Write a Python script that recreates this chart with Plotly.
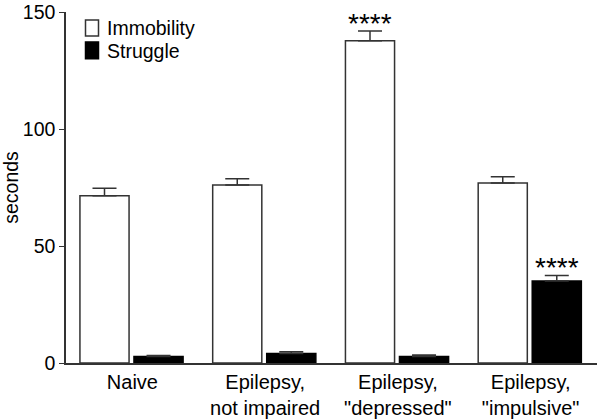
import plotly.graph_objects as go

categories = ["Naive", "Epilepsy,<br>not impaired", "Epilepsy,<br>\"depressed\"", "Epilepsy,<br>\"impulsive\""]
immobility = [71.5, 76.1, 137.7, 76.9]
immobility_err = [3.2, 2.6, 4.2, 2.7]
struggle = [2.8, 4.1, 2.8, 35.0]
struggle_err = [0.4, 0.7, 0.6, 2.4]
immobility_sig = ["", "", "****", ""]
struggle_sig = ["", "", "", "****"]
series_names = ["Immobility", "Struggle"]
y_ticks = [0, 50, 100, 150]

FONT = "Liberation Sans, Arial, sans-serif"
EDGE = "#333333"

FIG_W, FIG_H = 601, 419
ML, MR, MT, MB = 66, 4, 11.5, 55.5
PW = FIG_W - ML - MR
PH = FIG_H - MT - MB


def px_x(p):
    return (p - ML) / PW


def px_y(p):
    return (FIG_H - MB - p) / PH


W = 0.37
OFF_I = -0.395
OFF_S = 0.012

fig = go.Figure()
fig.add_trace(go.Bar(
    name=series_names[0], x=categories, y=immobility,
    width=W, offset=OFF_I, showlegend=False,
    marker=dict(color="white", line=dict(color=EDGE, width=1.5)),
    error_y=dict(type="data", array=immobility_err, arrayminus=[0] * 4, symmetric=False,
                 color=EDGE, thickness=1.5, width=12),
))
fig.add_trace(go.Bar(
    name=series_names[1], x=categories, y=struggle,
    width=W, offset=OFF_S, showlegend=False,
    marker=dict(color="black", line=dict(color="black", width=1.5)),
    error_y=dict(type="data", array=struggle_err, arrayminus=[0] * 4, symmetric=False,
                 color=EDGE, thickness=1.5, width=12),
))

annotations = []
star_font = dict(family=FONT, size=28, color="black")
for i in range(len(categories)):
    if immobility_sig[i]:
        annotations.append(dict(x=i + OFF_I + W / 2, y=immobility[i] + immobility_err[i],
                                xref="x", yref="y", text=immobility_sig[i], showarrow=False,
                                yanchor="bottom", yshift=-10, font=star_font))
    if struggle_sig[i]:
        annotations.append(dict(x=i + OFF_S + W / 2, y=struggle[i] + struggle_err[i],
                                xref="x", yref="y", text=struggle_sig[i], showarrow=False,
                                yanchor="bottom", yshift=-10, font=star_font))

# manual legend
shapes = [
    dict(type="rect", xref="paper", yref="paper",
         x0=px_x(85.5), x1=px_x(98.5), y0=px_y(35.5), y1=px_y(19.5),
         fillcolor="white", line=dict(color=EDGE, width=1.5)),
    dict(type="rect", xref="paper", yref="paper",
         x0=px_x(85.5), x1=px_x(98.5), y0=px_y(58.5), y1=px_y(41.5),
         fillcolor="black", line=dict(color="black", width=1.5)),
]
leg_font = dict(family=FONT, size=19.5, color="black")
annotations.append(dict(x=px_x(105), y=px_y(27.5), xref="paper", yref="paper",
                        text=series_names[0], showarrow=False, xanchor="left", yanchor="middle",
                        font=leg_font))
annotations.append(dict(x=px_x(105), y=px_y(50.5), xref="paper", yref="paper",
                        text=series_names[1], showarrow=False, xanchor="left", yanchor="middle",
                        font=leg_font))

fig.update_layout(
    width=FIG_W, height=FIG_H,
    margin=dict(l=ML, r=MR, t=MT, b=MB, pad=0),
    paper_bgcolor="white", plot_bgcolor="white",
    font=dict(family=FONT, size=19.5, color="black"),
    showlegend=False,
    annotations=annotations,
    shapes=shapes,
    xaxis=dict(type="category", range=[-0.5, 3.5], showline=True, linecolor=EDGE, linewidth=1.5,
               ticks="", showgrid=False, zeroline=False, automargin=False,
               tickfont=dict(family=FONT, size=20, color="black")),
    yaxis=dict(range=[0, 150], tickvals=y_ticks, showline=True, linecolor=EDGE, linewidth=1.5,
               ticks="outside", ticklen=5, tickcolor=EDGE, tickwidth=1.2,
               ticklabeloverflow="allow",
               showgrid=False, zeroline=False, automargin=False,
               title=dict(text="seconds", font=dict(family=FONT, size=19.5, color="black"), standoff=7),
               tickfont=dict(family=FONT, size=19.5, color="black")),
)

# remove the browser's default 8px page margin so the figure fills the window
fig.write_html("out.html", config={"displayModeBar": False},
               post_script="document.body.style.margin='0';")
